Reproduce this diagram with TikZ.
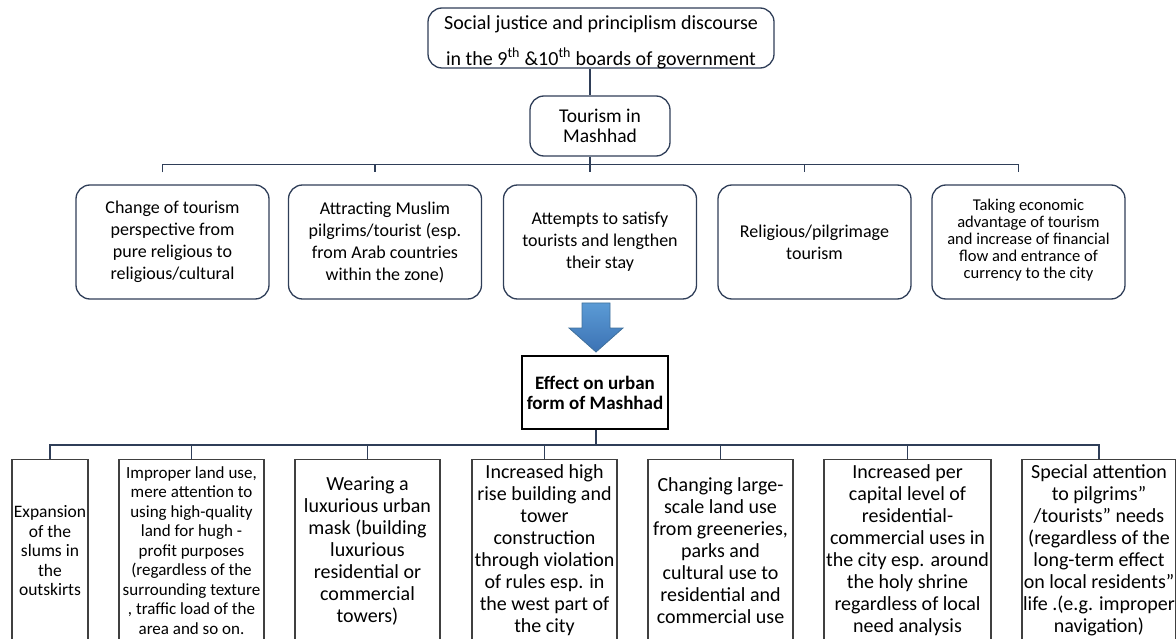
\documentclass[tikz,border=0pt]{standalone}
\usepackage{fontspec}
\setmainfont{Carlito}
\definecolor{edgeblue}{RGB}{47,62,88}
\definecolor{arrowtop}{RGB}{91,155,213}
\definecolor{arrowbot}{RGB}{60,114,180}
\definecolor{arrowedge}{RGB}{65,113,156}
\begin{document}
\begin{tikzpicture}[x=1pt,y=-1pt,
    rbox/.style={draw=edgeblue,line width=1.3pt,rounded corners=14pt,align=center,
      inner sep=2pt,minimum width=193pt,minimum height=114pt,font=\fontsize{18}{22}\selectfont},
    tbox/.style={draw=black!75,line width=1.2pt,align=center,inner xsep=0pt,inner ysep=1pt,
      minimum height=182pt,anchor=north,font=\fontsize{20}{22}\selectfont},
    link/.style={draw=edgeblue,line width=1.3pt}]
  \clip (0,0) rectangle (1176,639);
  % upper part
  \node [rbox,minimum width=346pt,minimum height=60pt] (discourse) at (601,38) {};
  \node [align=center,font=\fontsize{20}{36}\selectfont,yshift=-4pt] (discoursetext) at (discourse)
    {Social justice and principlism discourse\\
    in the 9\textsuperscript{th} \&10\textsuperscript{th} boards of government};
  \node [rbox,minimum width=140pt,minimum height=60pt,font=\fontsize{19.5}{20}\selectfont]
    (tourism) at (600,126) {Tourism in\\Mashhad};
  \node [rbox] (m1) at (172.5,242) {Change of tourism\\perspective from\\pure religious to\\religious/cultural};
  \node [rbox] (m2) at (385,242) {Attracting Muslim\\pilgrims/tourist (esp.\\from Arab countries\\within the zone)};
  \node [rbox] (m3) at (600,242) {Attempts to satisfy\\tourists and lengthen\\their stay};
  \node [rbox] (m4) at (814.5,242) {Religious/pilgrimage\\tourism};
  \node [rbox,font=\fontsize{16.5}{17}\selectfont] (m5) at (1028.5,242) {Taking economic\\advantage of tourism\\and increase of financial\\flow and entrance of\\currency to the city\rule[-7pt]{0pt}{7pt}};
  \coordinate (trunk) at (590,0);
  \draw [link] (discourse.south -| trunk) -- (tourism.north -| trunk);
  \draw [link] (tourism.south -| trunk) -- ([xshift=-10pt,yshift=12pt]m3.north);
  \draw [link] ([xshift=-10pt,yshift=12pt]m1.north) |- ([xshift=-10pt,yshift=20pt]m5.north)
    -- ([xshift=-10pt,yshift=12pt]m5.north);
  \foreach \m in {m2,m4}
    \draw [link] ([xshift=-10pt,yshift=20pt]\m.north) -- ([xshift=-10pt,yshift=12pt]\m.north);
  % block arrow
  \shade [top color=arrowtop,bottom color=arrowbot,draw=arrowedge,line width=0.8pt]
    (582,303) -- (610,303) -- (610,328) -- (623,328) -- (596,352) -- (569,328) -- (582,328) -- cycle;
  % lower part
  \node [draw=black,line width=1.8pt,align=center,minimum width=146pt,minimum height=73pt,
    font=\fontsize{19}{20}\selectfont\bfseries] (effect) at (595,392.5) {Effect on urban\\form of Mashhad};
  \node [tbox,minimum width=76pt,font=\fontsize{17.5}{19.5}\selectfont] (b1) at (50,459)
    {Expansion\\of the\\slums in\\the\\outskirts};
  \node [tbox,minimum width=145pt,font=\fontsize{17}{19.5}\selectfont] (b2) at (191.5,459)
    {Improper land use,\\mere attention to\\using high-quality\\land for hugh -\\profit purposes\\(regardless of the\\surrounding texture\\, traffic load of the\\area and so on.};
  \node [tbox,minimum width=145pt] (b3) at (367.5,459)
    {Wearing a\\luxurious urban\\mask (building\\luxurious\\residential or\\commercial\\towers)};
  \node [tbox,minimum width=145pt] (b4) at (544.5,459)
    {Increased high\\rise building and\\tower\\construction\\through violation\\of rules esp. in\\the west part of\\the city};
  \node [tbox,minimum width=145pt] (b5) at (720.5,459)
    {Changing large-\\scale land use\\from greeneries,\\parks and\\cultural use to\\residential and\\commercial use};
  \node [tbox,minimum width=167pt] (b6) at (907.5,459)
    {Increased per\\capital level of\\residential-\\commercial uses in\\the city esp. around\\the holy shrine\\regardless of local\\need analysis};
  \node [tbox,minimum width=154pt] (b7) at (1099,459)
    {Special attention\\to pilgrims”\\/tourists” needs\\(regardless of the\\long-term effect\\on local residents”\\life .(e.g. improper\\navigation)};
  \coordinate (bus) at (0,445);
  \draw [link] (effect.south -| 596,0) -- (596,445);
  \draw [link] (b1.north) |- (bus -| b7.north) -- (b7.north);
  \foreach \b in {b2,b3,b4,b5,b6}
    \draw [link] (\b.north |- bus) -- (\b.north);
\end{tikzpicture}
\end{document}
